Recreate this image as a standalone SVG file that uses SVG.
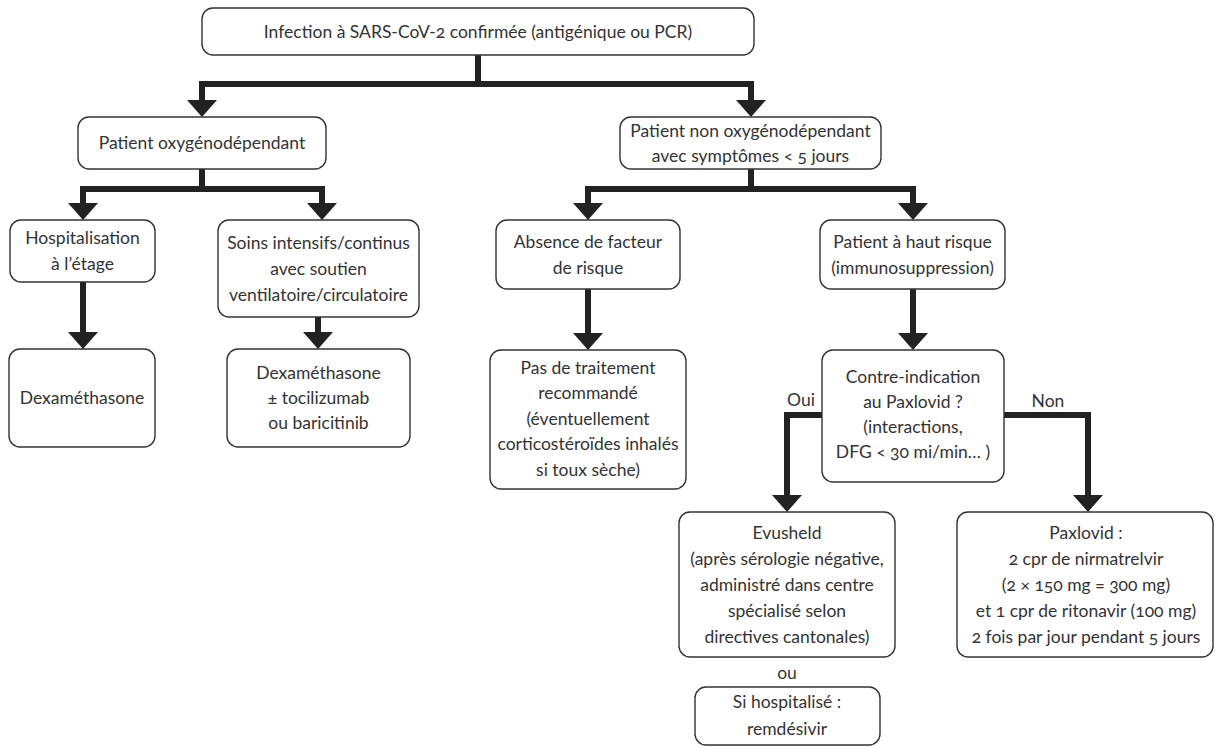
<svg xmlns="http://www.w3.org/2000/svg" width="1216" height="747" viewBox="0 0 1216 747">
<style>
.box{fill:#fff;stroke:#333;stroke-width:1.4}
.t{font-family:Lato,"Open Sans","Liberation Sans",sans-serif;font-size:17.5px;fill:#333;text-anchor:middle;font-variant-numeric:oldstyle-nums}
.c{fill:none;stroke:#222;stroke-width:6;stroke-linejoin:miter;stroke-linecap:butt}
.h{fill:#222}
</style>
<defs>
<polygon id="ah" points="-15,0 15,0 0,17"/>
</defs>
<rect width="1216" height="747" fill="#fff"/>
<g id="connectors">
<path class="c" d="M478,55 V84 M199,84 H754 M202,84 V101 M751,84 V101"/>
<use href="#ah" class="h" x="202" y="100"/>
<use href="#ah" class="h" x="751" y="100"/>
<path class="c" d="M202,169 V189 M80,189 H325 M83,189 V204 M322,189 V204"/>
<use href="#ah" class="h" x="83" y="203"/>
<use href="#ah" class="h" x="322" y="203"/>
<path class="c" d="M751,169 V189 M585,189 H916 M588,189 V204 M913,189 V204"/>
<use href="#ah" class="h" x="588" y="203"/>
<use href="#ah" class="h" x="913" y="203"/>
<path class="c" d="M83,282 V333"/>
<use href="#ah" class="h" x="83" y="332"/>
<path class="c" d="M318,317 V333"/>
<use href="#ah" class="h" x="318" y="332"/>
<path class="c" d="M588,289 V334"/>
<use href="#ah" class="h" x="588" y="333"/>
<path class="c" d="M913,289 V334"/>
<use href="#ah" class="h" x="913" y="333"/>
<path class="c" d="M822,415 H787 V496"/>
<use href="#ah" class="h" x="787" y="495"/>
<path class="c" d="M1004,415 H1088 V496"/>
<use href="#ah" class="h" x="1088" y="495"/>
<text class="t" x="801" y="406">Oui</text>
<text class="t" x="1048" y="407">Non</text>
</g>
<g id="n-infection">
<rect class="box" x="202" y="8" width="552" height="47" rx="11"/>
<text class="t" x="478" y="38">Infection à SARS-CoV-2 confirmée (antigénique ou PCR)</text>
</g>
<g id="n-oxy">
<rect class="box" x="78" y="117" width="248" height="52" rx="11"/>
<text class="t" x="202" y="149">Patient oxygénodépendant</text>
</g>
<g id="n-nonoxy">
<rect class="box" x="620" y="117" width="261" height="52" rx="11"/>
<text class="t" x="750.5" y="136.5">Patient non oxygénodépendant</text>
<text class="t" x="750.5" y="161.5">avec symptômes &lt; 5 jours</text>
</g>
<g id="n-hosp">
<rect class="box" x="10" y="220" width="145" height="62" rx="11"/>
<text class="t" x="82.5" y="244">Hospitalisation</text>
<text class="t" x="82.5" y="270">à l’étage</text>
</g>
<g id="n-soins">
<rect class="box" x="218" y="220" width="201" height="97" rx="11"/>
<text class="t" x="318.5" y="248.5">Soins intensifs/continus</text>
<text class="t" x="318.5" y="274.5">avec soutien</text>
<text class="t" x="318.5" y="300.5">ventilatoire/circulatoire</text>
</g>
<g id="n-absence">
<rect class="box" x="496" y="220" width="184" height="69" rx="11"/>
<text class="t" x="588" y="247.5">Absence de facteur</text>
<text class="t" x="588" y="273.5">de risque</text>
</g>
<g id="n-haut">
<rect class="box" x="820" y="220" width="185" height="69" rx="11"/>
<text class="t" x="912.5" y="247.5">Patient à haut risque</text>
<text class="t" x="912.5" y="273.5">(immunosuppression)</text>
</g>
<g id="n-dexa1">
<rect class="box" x="9" y="349" width="146" height="98" rx="11"/>
<text class="t" x="82" y="404">Dexaméthasone</text>
</g>
<g id="n-dexa2">
<rect class="box" x="227" y="349" width="183" height="98" rx="11"/>
<text class="t" x="318.5" y="379">Dexaméthasone</text>
<text class="t" x="318.5" y="404">± tocilizumab</text>
<text class="t" x="318.5" y="429">ou baricitinib</text>
</g>
<g id="n-pas">
<rect class="box" x="490" y="350" width="196" height="139" rx="11"/>
<text class="t" x="588" y="373.5">Pas de traitement</text>
<text class="t" x="588" y="399">recommandé</text>
<text class="t" x="588" y="424.5">(éventuellement</text>
<text class="t" x="588" y="450">corticostéroïdes inhalés</text>
<text class="t" x="588" y="475.5">si toux sèche)</text>
</g>
<g id="n-contre">
<rect class="box" x="822" y="350" width="182" height="132" rx="11"/>
<text class="t" x="913" y="383">Contre-indication</text>
<text class="t" x="913" y="408">au Paxlovid ?</text>
<text class="t" x="913" y="433">(interactions,</text>
<text class="t" x="913" y="458">DFG &lt; 30 mi/min… )</text>
</g>
<g id="n-evusheld">
<rect class="box" x="679" y="512" width="216" height="145" rx="11"/>
<text class="t" x="787" y="539">Evusheld</text>
<text class="t" x="787" y="565">(après sérologie négative,</text>
<text class="t" x="787" y="591">administré dans centre</text>
<text class="t" x="787" y="617">spécialisé selon</text>
<text class="t" x="787" y="643">directives cantonales)</text>
</g>
<text class="t" x="787" y="679">ou</text>
<g id="n-remdesivir">
<rect class="box" x="695" y="687" width="185" height="58" rx="11"/>
<text class="t" x="787" y="708">Si hospitalisé :</text>
<text class="t" x="787" y="735">remdésivir</text>
</g>
<g id="n-paxlovid">
<rect class="box" x="957" y="512" width="256" height="145" rx="11"/>
<text class="t" x="1086" y="539">Paxlovid :</text>
<text class="t" x="1086" y="565">2 cpr de nirmatrelvir</text>
<text class="t" x="1086" y="591">(2 × 150 mg = 300 mg)</text>
<text class="t" x="1086" y="617">et 1 cpr de ritonavir (100 mg)</text>
<text class="t" x="1086" y="643">2 fois par jour pendant 5 jours</text>
</g>
</svg>
